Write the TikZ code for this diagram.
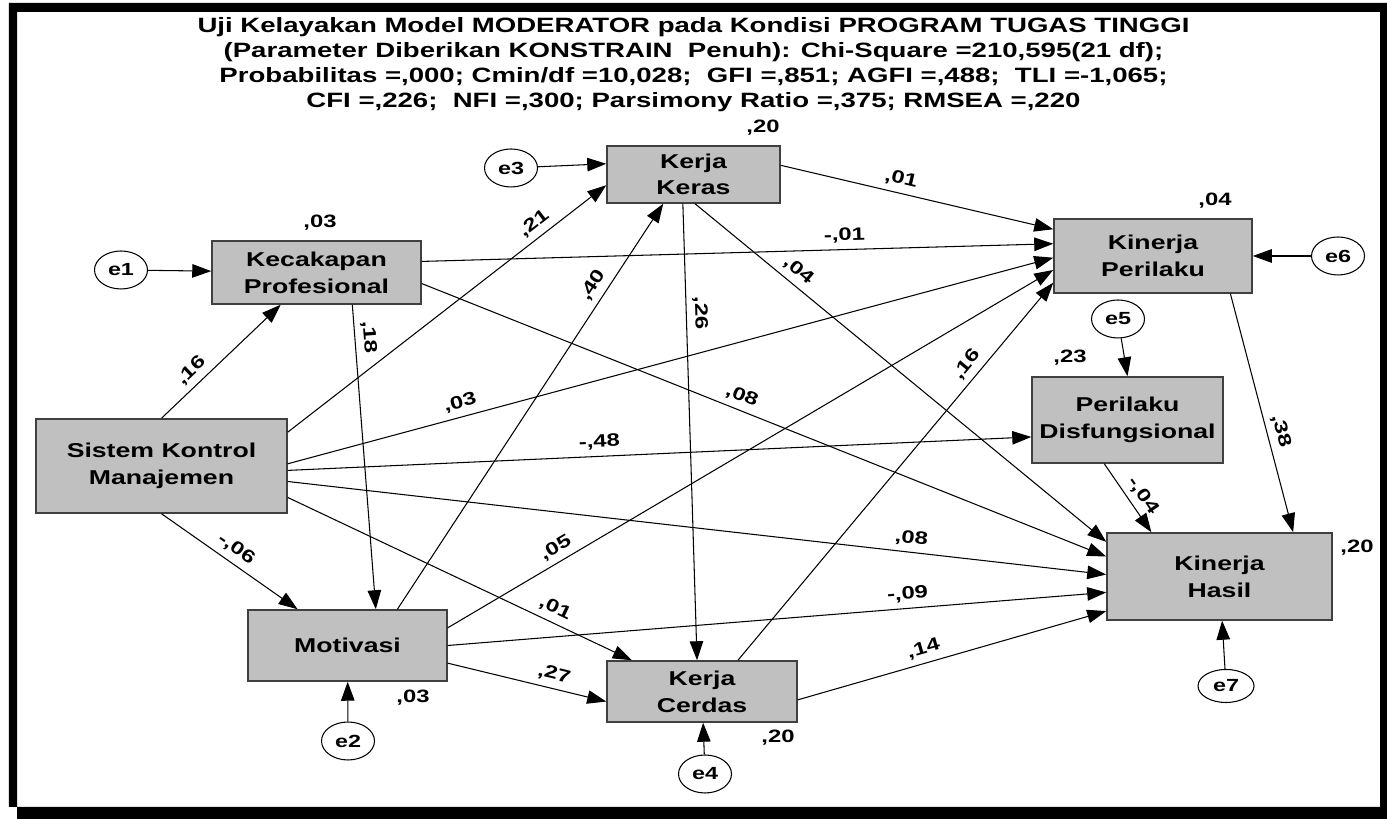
\documentclass[tikz,border=0pt]{standalone}
\usepackage{fontspec}
\setmainfont{Liberation Sans}[FakeStretch=1.33]
\usetikzlibrary{arrows.meta,shapes.geometric}
\definecolor{boxgray}{RGB}{192,192,192}
\tikzset{
  var/.style={draw=black!75, line width=0.85pt, fill=boxgray, align=center, inner sep=0pt,
    font=\fontsize{11.4}{15.2}\selectfont\bfseries},
  err/.style={draw, ellipse, line width=0.6pt, fill=white, minimum width=1.06cm,
    minimum height=0.76cm, inner sep=0pt, font=\fontsize{10}{11}\selectfont\bfseries},
  arr/.style={-{Triangle[length=0.38cm,width=0.27cm]}, line width=0.6pt},
  coef/.style={sloped, above=0.08cm, inner sep=1pt, font=\fontsize{10.2}{11}\selectfont\bfseries},
  rsq/.style={inner sep=0pt, font=\fontsize{10.2}{11}\selectfont\bfseries}
}
\begin{document}
\begin{tikzpicture}
\useasboundingbox (0,0) rectangle (27.74,16.38);

% Frame with shadow
\fill[black, even odd rule] (0.18,16.32) -- (27.74,16.32) -- (27.74,0) -- (0.34,0) -- (0.34,0.24) -- (0.18,0.24) -- cycle
  (0.34,16.14) rectangle (27.60,0.24);

% Heading
\node[inner sep=0pt, align=center, anchor=north, font=\fontsize{11.8}{14.2}\selectfont\bfseries] (judul) at (13.87,16.04)
  {Uji Kelayakan Model MODERATOR pada Kondisi PROGRAM TUGAS TINGGI\\
   (Parameter Diberikan KONSTRAIN~~Penuh): Chi-Square =210,595(21 df);\\
   Probabilitas =,000; Cmin/df =10,028;~~GFI =,851; AGFI =,488;~~TLI =-1,065;\\
   CFI =,226;~~NFI =,300; Parsimony Ratio =,375; RMSEA =,220};

% Observed variables
\node[var, minimum width=4.18cm, minimum height=1.26cm] (kp) at (6.33,10.93) {Kecakapan\\Profesional};
\node[var, minimum width=3.46cm, minimum height=1.14cm] (kk) at (13.87,12.89) {Kerja\\Keras};
\node[var, minimum width=5.02cm, minimum height=1.88cm] (skm) at (3.23,7.06) {Sistem Kontrol\\Manajemen};
\node[var, minimum width=3.98cm, minimum height=1.42cm] (mot) at (6.95,3.47) {Motivasi};
\node[var, minimum width=3.80cm, minimum height=1.22cm] (kc) at (14.04,2.55) {Kerja\\Cerdas};
\node[var, minimum width=3.96cm, minimum height=1.48cm] (kpr) at (23.06,11.26) {Kinerja\\Perilaku};
\node[var, minimum width=3.82cm, minimum height=1.72cm] (pd) at (22.55,7.98) {Perilaku\\Disfungsional};
\node[var, minimum width=4.50cm, minimum height=1.74cm] (kh) at (24.39,4.85) {Kinerja\\Hasil};

% Error terms
\node[err] (e1) at (2.42,10.98) {e1};
\node[err] (e2) at (6.96,1.56) {e2};
\node[err] (e3) at (10.22,13.02) {e3};
\node[err] (e4) at (14.10,0.90) {e4};
\node[err] (e5) at (22.36,10.00) {e5};
\node[err] (e6) at (26.76,11.26) {e6};
\node[err, minimum width=1.12cm, minimum height=0.66cm] (e7) at (24.52,2.66) {e7};

\draw[arr] (e1) -- (kp);
\draw[arr] (e2) -- (mot);
\draw[arr] (e3) -- (kk.173);
\draw[arr] (e4) -- (kc);
\draw[arr] (e5) -- (pd.north);
\draw[arr] (e6) -- (kpr);
\draw[arr] (e7) -- (kh);

% Squared multiple correlations
\node[rsq] (r-kp) at (6.40,11.92) {,03};
\node[rsq] (r-kk) at (15.26,13.82) {,20};
\node[rsq] (r-kpr) at (24.30,12.36) {,04};
\node[rsq] (r-pd) at (21.40,9.22) {,23};
\node[rsq] (r-kh) at (27.14,5.42) {,20};
\node[rsq] (r-mot) at (8.26,2.42) {,03};
\node[rsq] (r-kc) at (15.56,1.62) {,20};

% Paths from Sistem Kontrol Manajemen
\draw[arr] (skm.north) -- node[coef, pos=0.33] {,16} (kp.-138);
\draw[arr] (skm.15) -- node[coef, pos=0.80] {,21} (kk.-173);
\draw[arr] (skm.1) -- node[coef, pos=0.23] {,03} (kpr.181);
\draw[arr] (skm.-2) -- node[coef, pos=0.42] {-,48} (pd.190);
\draw[arr] (skm.-7) -- node[coef, pos=0.76] {,08} (kh.179);
\draw[arr] (skm.-14) -- node[coef, pos=0.76] {,01} (kc.156);
\draw[arr] (skm.south) -- node[coef, pos=0.49] {-,06} (mot.144);

% Paths from Kecakapan Profesional
\draw[arr] (kp.-42) -- node[coef, pos=0.11] {,18} (mot.52);
\draw[arr] (kp.6) -- node[coef, pos=0.67] {-,01} (kpr.173);
\draw[arr] (kp.-6) -- node[coef, pos=0.46] {,08} (kh.170);

% Paths from Motivasi
\draw[arr] (mot.36) -- node[coef, pos=0.78] {,40} (kk.-136);
\draw[arr] (mot.10) -- node[coef, pos=0.19] {,05} (kpr.-172);
\draw[arr] (mot.0) -- node[coef, pos=0.70] {-,09} (kh.-172);
\draw[arr] (mot.-10) -- node[coef, pos=0.65] {,27} (kc.-174);

% Paths from Kerja Keras and Kerja Cerdas
\draw[arr] (kk.6) -- node[coef, pos=0.43] {,01} (kpr.165);
\draw[arr] (kk.-110) -- node[coef, pos=0.24] {,26} (kc.99);
\draw[arr] (kk.-87) -- node[coef, pos=0.23] {,04} (kh.163);
\draw[arr] (kc.41) -- node[coef, pos=0.76] {,16} (kpr.-165);
\draw[arr] (kc.-5) -- node[coef, pos=0.42] {,14} (kh.-163);

% Paths into Kinerja Hasil
\draw[arr] (pd.-118) -- node[coef, pos=0.58] {-,04} (kh.147);
\draw[arr] (kpr.-26) -- node[coef, pos=0.59] {,38} (kh.31);
\end{tikzpicture}
\end{document}
